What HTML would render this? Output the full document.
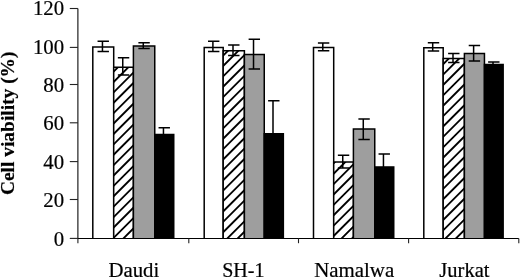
<!DOCTYPE html>
<html><head><meta charset="utf-8"><style>
html,body{margin:0;padding:0;background:#fff;}
svg{display:block;will-change:transform;}
.t{font-family:"Liberation Serif",serif;font-size:20px;fill:#000;stroke:#000;stroke-width:0.2px;}
.b{font-family:"Liberation Serif",serif;font-size:20px;font-weight:bold;fill:#000;stroke:#000;stroke-width:0.2px;}
</style></head><body>
<svg width="520" height="279" viewBox="0 0 520 279">
<rect width="520" height="279" fill="#fff"/>
<rect x="92.80" y="47.10" width="20.90" height="191.30" fill="#fff"/>
<path d="M92.80,238.40V47.10H113.70V238.40" fill="none" stroke="#000" stroke-width="1.5"/>
<rect x="113.70" y="67.30" width="19.70" height="171.10" fill="#fff"/>
<clipPath id="c0"><rect x="113.70" y="67.30" width="19.70" height="171.10"/></clipPath>
<path clip-path="url(#c0)" d="M-75.95,240.40L99.15,65.30M-65.56,240.40L109.54,65.30M-55.17,240.40L119.93,65.30M-44.78,240.40L130.32,65.30M-34.39,240.40L140.71,65.30M-24.00,240.40L151.10,65.30M-13.61,240.40L161.49,65.30M-3.22,240.40L171.88,65.30M7.17,240.40L182.27,65.30M17.56,240.40L192.66,65.30M27.95,240.40L203.05,65.30M38.34,240.40L213.44,65.30M48.73,240.40L223.83,65.30M59.12,240.40L234.22,65.30M69.51,240.40L244.61,65.30M79.90,240.40L255.00,65.30M90.29,240.40L265.39,65.30M100.68,240.40L275.78,65.30M111.07,240.40L286.17,65.30M121.46,240.40L296.56,65.30M131.85,240.40L306.95,65.30M142.24,240.40L317.34,65.30" stroke="#000" stroke-width="1.85" fill="none"/>
<path d="M113.70,238.40V67.30H133.40V238.40" fill="none" stroke="#000" stroke-width="1.5"/>
<rect x="133.40" y="46.00" width="21.35" height="192.40" fill="#9e9e9e"/>
<path d="M133.40,238.40V46.00H154.75V238.40" fill="none" stroke="#000" stroke-width="1.5"/>
<rect x="154.75" y="134.60" width="19.00" height="103.80" fill="#000"/>
<path d="M154.75,238.40V134.60H173.75V238.40" fill="none" stroke="#000" stroke-width="1.5"/>
<rect x="204.20" y="47.50" width="19.00" height="190.90" fill="#fff"/>
<path d="M204.20,238.40V47.50H223.20V238.40" fill="none" stroke="#000" stroke-width="1.5"/>
<rect x="223.20" y="50.70" width="21.20" height="187.70" fill="#fff"/>
<clipPath id="c1"><rect x="223.20" y="50.70" width="21.20" height="187.70"/></clipPath>
<path clip-path="url(#c1)" d="M17.56,240.40L209.26,48.70M27.95,240.40L219.65,48.70M38.34,240.40L230.04,48.70M48.73,240.40L240.43,48.70M59.12,240.40L250.82,48.70M69.51,240.40L261.21,48.70M79.90,240.40L271.60,48.70M90.29,240.40L281.99,48.70M100.68,240.40L292.38,48.70M111.07,240.40L302.77,48.70M121.46,240.40L313.16,48.70M131.85,240.40L323.55,48.70M142.24,240.40L333.94,48.70M152.63,240.40L344.33,48.70M163.02,240.40L354.72,48.70M173.41,240.40L365.11,48.70M183.80,240.40L375.50,48.70M194.19,240.40L385.89,48.70M204.58,240.40L396.28,48.70M214.97,240.40L406.67,48.70M225.36,240.40L417.06,48.70M235.75,240.40L427.45,48.70M246.14,240.40L437.84,48.70M256.53,240.40L448.23,48.70" stroke="#000" stroke-width="1.85" fill="none"/>
<path d="M223.20,238.40V50.70H244.40V238.40" fill="none" stroke="#000" stroke-width="1.5"/>
<rect x="244.40" y="54.40" width="19.85" height="184.00" fill="#9e9e9e"/>
<path d="M244.40,238.40V54.40H264.25V238.40" fill="none" stroke="#000" stroke-width="1.5"/>
<rect x="264.25" y="133.80" width="19.10" height="104.60" fill="#000"/>
<path d="M264.25,238.40V133.80H283.35V238.40" fill="none" stroke="#000" stroke-width="1.5"/>
<rect x="313.50" y="47.60" width="20.20" height="190.80" fill="#fff"/>
<path d="M313.50,238.40V47.60H333.70V238.40" fill="none" stroke="#000" stroke-width="1.5"/>
<rect x="333.70" y="161.90" width="19.70" height="76.50" fill="#fff"/>
<clipPath id="c2"><rect x="333.70" y="161.90" width="19.70" height="76.50"/></clipPath>
<path clip-path="url(#c2)" d="M235.75,240.40L316.25,159.90M246.14,240.40L326.64,159.90M256.53,240.40L337.03,159.90M266.92,240.40L347.42,159.90M277.31,240.40L357.81,159.90M287.70,240.40L368.20,159.90M298.09,240.40L378.59,159.90M308.48,240.40L388.98,159.90M318.87,240.40L399.37,159.90M329.26,240.40L409.76,159.90M339.65,240.40L420.15,159.90M350.04,240.40L430.54,159.90M360.43,240.40L440.93,159.90M370.82,240.40L451.32,159.90" stroke="#000" stroke-width="1.85" fill="none"/>
<path d="M333.70,238.40V161.90H353.40V238.40" fill="none" stroke="#000" stroke-width="1.5"/>
<rect x="353.40" y="129.00" width="21.35" height="109.40" fill="#9e9e9e"/>
<path d="M353.40,238.40V129.00H374.75V238.40" fill="none" stroke="#000" stroke-width="1.5"/>
<rect x="374.75" y="166.90" width="19.00" height="71.50" fill="#000"/>
<path d="M374.75,238.40V166.90H393.75V238.40" fill="none" stroke="#000" stroke-width="1.5"/>
<rect x="423.80" y="47.70" width="19.40" height="190.70" fill="#fff"/>
<path d="M423.80,238.40V47.70H443.20V238.40" fill="none" stroke="#000" stroke-width="1.5"/>
<rect x="443.20" y="58.60" width="21.20" height="179.80" fill="#fff"/>
<clipPath id="c3"><rect x="443.20" y="58.60" width="21.20" height="179.80"/></clipPath>
<path clip-path="url(#c3)" d="M246.14,240.40L429.94,56.60M256.53,240.40L440.33,56.60M266.92,240.40L450.72,56.60M277.31,240.40L461.11,56.60M287.70,240.40L471.50,56.60M298.09,240.40L481.89,56.60M308.48,240.40L492.28,56.60M318.87,240.40L502.67,56.60M329.26,240.40L513.06,56.60M339.65,240.40L523.45,56.60M350.04,240.40L533.84,56.60M360.43,240.40L544.23,56.60M370.82,240.40L554.62,56.60M381.21,240.40L565.01,56.60M391.60,240.40L575.40,56.60M401.99,240.40L585.79,56.60M412.38,240.40L596.18,56.60M422.77,240.40L606.57,56.60M433.16,240.40L616.96,56.60M443.55,240.40L627.35,56.60M453.94,240.40L637.74,56.60M464.33,240.40L648.13,56.60M474.72,240.40L658.52,56.60" stroke="#000" stroke-width="1.85" fill="none"/>
<path d="M443.20,238.40V58.60H464.40V238.40" fill="none" stroke="#000" stroke-width="1.5"/>
<rect x="464.40" y="53.40" width="20.05" height="185.00" fill="#9e9e9e"/>
<path d="M464.40,238.40V53.40H484.45V238.40" fill="none" stroke="#000" stroke-width="1.5"/>
<rect x="484.45" y="64.40" width="18.70" height="174.00" fill="#000"/>
<path d="M484.45,238.40V64.40H503.15V238.40" fill="none" stroke="#000" stroke-width="1.5"/>
<path d="M102.45,41.20V51.40M97.55,41.20H108.95M97.55,51.40H108.95" stroke="#000" stroke-width="1.5" fill="none"/>
<path d="M122.75,57.80V75.00M117.85,57.80H129.25M117.85,75.00H129.25" stroke="#000" stroke-width="1.5" fill="none"/>
<path d="M143.27,42.70V48.40M138.38,42.70H149.77M138.38,48.40H149.77" stroke="#000" stroke-width="1.5" fill="none"/>
<path d="M163.45,127.70V139.50M158.55,127.70H169.95M158.55,139.50H169.95" stroke="#000" stroke-width="1.5" fill="none"/>
<path d="M212.90,41.30V51.50M208.00,41.30H219.40M208.00,51.50H219.40" stroke="#000" stroke-width="1.5" fill="none"/>
<path d="M233.00,45.10V55.50M228.10,45.10H239.50M228.10,55.50H239.50" stroke="#000" stroke-width="1.5" fill="none"/>
<path d="M253.52,39.20V69.10M248.62,39.20H260.02M248.62,69.10H260.02" stroke="#000" stroke-width="1.5" fill="none"/>
<path d="M273.00,100.80V160.00M268.10,100.80H279.50M268.10,160.00H279.50" stroke="#000" stroke-width="1.5" fill="none"/>
<path d="M322.80,42.90V50.80M317.90,42.90H329.30M317.90,50.80H329.30" stroke="#000" stroke-width="1.5" fill="none"/>
<path d="M342.75,155.20V168.00M337.85,155.20H349.25M337.85,168.00H349.25" stroke="#000" stroke-width="1.5" fill="none"/>
<path d="M363.27,119.00V139.50M358.38,119.00H369.77M358.38,139.50H369.77" stroke="#000" stroke-width="1.5" fill="none"/>
<path d="M383.45,154.10V178.00M378.55,154.10H389.95M378.55,178.00H389.95" stroke="#000" stroke-width="1.5" fill="none"/>
<path d="M432.70,42.70V51.10M427.80,42.70H439.20M427.80,51.10H439.20" stroke="#000" stroke-width="1.5" fill="none"/>
<path d="M453.00,53.60V62.50M448.10,53.60H459.50M448.10,62.50H459.50" stroke="#000" stroke-width="1.5" fill="none"/>
<path d="M473.62,45.50V61.10M468.72,45.50H480.12M468.72,61.10H480.12" stroke="#000" stroke-width="1.5" fill="none"/>
<path d="M493.00,62.10V65.00M488.10,62.10H499.50M488.10,65.00H499.50" stroke="#000" stroke-width="1.5" fill="none"/>
<path d="M77.9,8.5V238.4H518.8" stroke="#000" stroke-width="1.05" fill="none"/>
<path d="M69.8,238.40H77.9" stroke="#222" stroke-width="1.1"/>
<path d="M69.8,199.50H77.9" stroke="#222" stroke-width="1.1"/>
<path d="M69.8,161.60H77.9" stroke="#222" stroke-width="1.1"/>
<path d="M69.8,122.80H77.9" stroke="#222" stroke-width="1.1"/>
<path d="M69.8,84.50H77.9" stroke="#222" stroke-width="1.1"/>
<path d="M69.8,47.40H77.9" stroke="#222" stroke-width="1.1"/>
<path d="M69.8,8.50H77.9" stroke="#222" stroke-width="1.1"/>
<path d="M77.9,238.4V243.2" stroke="#222" stroke-width="1.1"/>
<path d="M188.8,238.4V243.2" stroke="#222" stroke-width="1.1"/>
<path d="M298.5,238.4V243.2" stroke="#222" stroke-width="1.1"/>
<path d="M408.6,238.4V243.2" stroke="#222" stroke-width="1.1"/>
<path d="M518.8,238.4V243.2" stroke="#222" stroke-width="1.1"/>
<text transform="translate(64.1,245.70) scale(1.04,1)" text-anchor="end" class="t">0</text>
<text transform="translate(64.1,206.95) scale(1.04,1)" text-anchor="end" class="t">20</text>
<text transform="translate(64.1,168.95) scale(1.04,1)" text-anchor="end" class="t">40</text>
<text transform="translate(64.1,130.35) scale(1.04,1)" text-anchor="end" class="t">60</text>
<text transform="translate(64.1,92.30) scale(1.04,1)" text-anchor="end" class="t">80</text>
<text transform="translate(64.1,53.50) scale(1.04,1)" text-anchor="end" class="t">100</text>
<text transform="translate(64.1,15.40) scale(1.04,1)" text-anchor="end" class="t">120</text>
<text transform="translate(133.90,276.6) scale(1.04,1)" text-anchor="middle" class="t">Daudi</text>
<text transform="translate(243.30,276.6) scale(1.0,1)" text-anchor="middle" class="t">SH-1</text>
<text transform="translate(354.20,276.6) scale(1.045,1)" text-anchor="middle" class="t">Namalwa</text>
<text transform="translate(464.40,276.6) scale(1.025,1)" text-anchor="middle" class="t">Jurkat</text>
<text transform="translate(14.4,123.3) rotate(-90)" text-anchor="middle" class="b" style="font-size:19.45px">Cell viability (%)</text>
</svg>
</body></html>
